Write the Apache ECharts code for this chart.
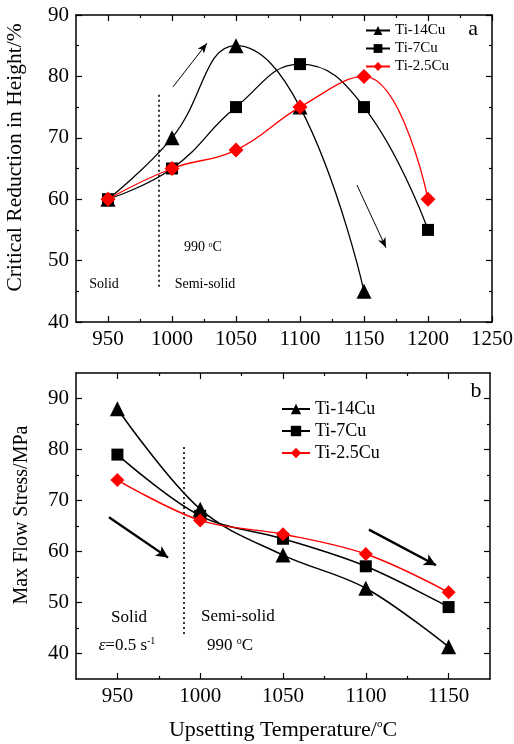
<!DOCTYPE html>
<html><head><meta charset="utf-8">
<script src="https://cdn.jsdelivr.net/npm/echarts@6/dist/echarts.min.js"></script>
<style>html,body{margin:0;padding:0;background:#fff}#c{width:514px;height:744px}</style>
</head><body><div id="c"></div>
<script>
// ---- Data ----
const tempsA = [950, 1000, 1050, 1100, 1150, 1200];
const aTi14 = [60, 70, 85, 75, 45, null];
const aTi7 = [60, 65, 75, 82, 75, 55];
const aTi25 = [60, 65, 68, 75, 80, 60];
const tempsB = [950, 1000, 1050, 1100, 1150];
const bTi14 = [88, 68.3, 59.3, 52.8, 41.3];
const bTi7 = [79, 67, 62.5, 57.1, 49.1];
const bTi25 = [74, 66.1, 63.4, 59.5, 52.0];
const seriesNames = ['Ti-14Cu', 'Ti-7Cu', 'Ti-2.5Cu'];
const xTicksA = [950, 1000, 1050, 1100, 1150, 1200, 1250];
const xMinorA = [975, 1025, 1075, 1125, 1175, 1225];
const yTicksA = [40, 50, 60, 70, 80, 90];
const yMinorA = [45, 55, 65, 75, 85];
const xTicksB = [950, 1000, 1050, 1100, 1150];
const xMinorB = [975, 1025, 1075, 1125];
const yTicksB = [40, 50, 60, 70, 80, 90];
const yMinorB = [45, 55, 65, 75, 85];
// annotations (data coordinates)
const transitionTemp = 990;
const dottedA = [77, 45.5];
const dottedB = [80.5, 43.4];
const arrowsA = [[[1000.8, 78.3], [1027.3, 85.4]], [[1144.5, 62.3], [1167.2, 52.1]]];
const arrowsB = [[[944.9, 66.7], [980.6, 58.8]], [[1101.9, 64.3], [1142.4, 57.3]]];
const textsA = [
  { t: 'Solid', p: [946.9, 46.2] },
  { t: 'Semi-solid', p: [1025.8, 46.2] },
  { t: '990 {sup|o}C', p: [1024.2, 52.1] },
  { t: 'a', p: [1235.2, 87.7], big: true }
];
const textsB = [
  { t: 'Solid', p: [957, 47.1] },
  { t: 'Semi-solid', p: [1022.8, 47.3] },
  { t: '{it|ε}=0.5 s{sup|-1}', p: [955.8, 41.6] },
  { t: '990 {sup|o}C', p: [1018, 41.6] },
  { t: 'b', p: [1166.5, 91.4], big: true }
];

const FONT = 'Liberation Serif';
const black = '#000';
const red = '#ff0000';
const plain = v => String(v);

function xAxes(g, min, max, major, minor, showLabels) {
  const base = { gridIndex: g, type: 'value', min: min, max: max, splitLine: { show: false } };
  const line = { show: true, onZero: false, lineStyle: { color: black, width: 1.5 } };
  return [
    Object.assign({}, base, { position: 'bottom', axisLine: line,
      axisTick: { inside: true, length: 6, customValues: major, lineStyle: { color: black, width: 1.2 } },
      axisLabel: { show: showLabels, customValues: major, formatter: plain, color: black, fontFamily: FONT, fontSize: 21, margin: 7 } }),
    Object.assign({}, base, { position: 'bottom', axisLine: { show: false },
      axisTick: { inside: true, length: 3, customValues: minor, lineStyle: { color: black, width: 1.2 } },
      axisLabel: { show: false } }),
    Object.assign({}, base, { position: 'top', axisLine: line,
      axisTick: { inside: true, length: 6, customValues: major, lineStyle: { color: black, width: 1.2 } },
      axisLabel: { show: false } }),
    Object.assign({}, base, { position: 'top', axisLine: { show: false },
      axisTick: { inside: true, length: 3, customValues: minor, lineStyle: { color: black, width: 1.2 } },
      axisLabel: { show: false } })
  ];
}
function yAxes(g, min, max, major, minor, name, nameGap, nameSize) {
  const base = { gridIndex: g, type: 'value', min: min, max: max, splitLine: { show: false } };
  const line = { show: true, onZero: false, lineStyle: { color: black, width: 1.5 } };
  return [
    Object.assign({}, base, { position: 'left', axisLine: line,
      name: name, nameLocation: 'middle', nameGap: nameGap,
      nameTextStyle: { color: black, fontFamily: FONT, fontSize: nameSize, padding: [0, 0, 0, 22] },
      axisTick: { inside: true, length: 6, customValues: major, lineStyle: { color: black, width: 1.2 } },
      axisLabel: { customValues: major, formatter: plain, color: black, fontFamily: FONT, fontSize: 21, margin: 7 } }),
    Object.assign({}, base, { position: 'left', axisLine: { show: false },
      axisTick: { inside: true, length: 3, customValues: minor, lineStyle: { color: black, width: 1.2 } },
      axisLabel: { show: false } }),
    Object.assign({}, base, { position: 'right', axisLine: line,
      axisTick: { inside: true, length: 6, customValues: major, lineStyle: { color: black, width: 1.2 } },
      axisLabel: { show: false } }),
    Object.assign({}, base, { position: 'right', axisLine: { show: false },
      axisTick: { inside: true, length: 3, customValues: minor, lineStyle: { color: black, width: 1.2 } },
      axisLabel: { show: false } })
  ];
}

const xa = xAxes(0, 925, 1250, xTicksA, xMinorA, true)
  .concat(xAxes(1, 925, 1175, xTicksB, xMinorB, true));
xa[4].name = 'Upsetting Temperature/{sup|o}C';
xa[4].nameLocation = 'middle';
xa[4].nameGap = 40;
xa[4].nameTextStyle = { color: black, fontFamily: FONT, fontSize: 22,
  rich: { sup: { fontSize: 11, verticalAlign: 'top', fontFamily: FONT, color: black } } };
const ya = yAxes(0, 40, 90, yTicksA, yMinorA, 'Critical Reduction in Height/%', 50, 21.5)
  .concat(yAxes(1, 35, 95, yTicksB, yMinorB, 'Max Flow Stress/MPa', 44, 20));

function pairs(xs, ys) {
  const out = [];
  xs.forEach((x, i) => { if (ys[i] != null) out.push([x, ys[i]]); });
  return out;
}
const symbols = ['triangle', 'rect', 'diamond'];
const colors = [black, black, red];
const sizesA = [15, 12, 15];
const sizesB = [15, 12, 14];
const seriesA = [aTi14, aTi7, aTi25];
const seriesB = [bTi14, bTi7, bTi25];

const series = [];
seriesA.forEach((vals, i) => series.push({
  name: seriesNames[i], type: 'line', xAxisIndex: 0, yAxisIndex: 0,
  data: pairs(tempsA, vals), smooth: 0.45, symbol: symbols[i], symbolSize: sizesA[i],
  lineStyle: { color: colors[i], width: 1.3 }, itemStyle: { color: colors[i] },
  z: 3 + i, animation: false
}));
seriesB.forEach((vals, i) => series.push({
  name: seriesNames[i], type: 'line', xAxisIndex: 4, yAxisIndex: 4,
  data: pairs(tempsB, vals), smooth: 0.35, symbol: symbols[i], symbolSize: sizesB[i],
  lineStyle: { color: colors[i], width: 1.5 }, itemStyle: { color: colors[i] },
  z: 3 + i, animation: false
}));

function annotSeries(xi, yi, texts, dotted, arrows, fs, thick) {
  const lines = [[{ coord: [transitionTemp, dotted[0]], symbol: 'none' },
                  { coord: [transitionTemp, dotted[1]], symbol: 'none',
                    lineStyle: { type: [2, 3], width: 1.6, color: black } }]];
  arrows.forEach(a => lines.push([{ coord: a[0], symbol: 'none' },
    { coord: a[1], symbol: 'arrow', symbolSize: thick ? [9, 12] : [6, 10],
      lineStyle: { type: 'solid', width: thick ? 2.4 : 1, color: black } }]));
  return {
    type: 'scatter', xAxisIndex: xi, yAxisIndex: yi, symbolSize: 0, silent: true, animation: false,
    itemStyle: { opacity: 1 },
    data: texts.map(d => ({ value: d.p, label: { show: true, position: 'inside', formatter: d.t,
      fontSize: d.big ? 22 : fs, fontFamily: FONT, color: black, opacity: 1,
      rich: { sup: { fontSize: Math.round(fs * 0.6), verticalAlign: 'top', fontFamily: FONT, color: black },
              it: { fontStyle: 'italic', fontSize: fs, fontFamily: FONT, color: black } } } })),
    markLine: { silent: true, animation: false, label: { show: false }, symbol: ['none', 'arrow'],
      lineStyle: { color: black, type: 'solid' }, data: lines }
  };
}
series.push(annotSeries(0, 0, textsA, dottedA, arrowsA, 14, false));
series.push(annotSeries(4, 4, textsB, dottedB, arrowsB, 17, true));

const chart = echarts.init(document.getElementById('c'), null, { renderer: 'canvas' });
chart.setOption({
  backgroundColor: '#fff',
  animation: false,
  grid: [
    { left: 76, top: 15, width: 416, height: 307, containLabel: false, outerBoundsMode: 'none' },
    { left: 76, top: 373, width: 414, height: 306, containLabel: false, outerBoundsMode: 'none' }
  ],
  legend: [
    { data: seriesNames, orient: 'vertical', left: 360, top: 18, itemWidth: 24, itemHeight: 11, itemGap: 3,
      textStyle: { fontFamily: FONT, fontSize: 15, color: black }, selectedMode: false },
    { data: seriesNames, orient: 'vertical', left: 276, top: 395, itemWidth: 28, itemHeight: 13, itemGap: 4,
      textStyle: { fontFamily: FONT, fontSize: 18, color: black }, selectedMode: false }
  ],
  xAxis: xa,
  yAxis: ya,
  series: series
});
</script></body></html>
